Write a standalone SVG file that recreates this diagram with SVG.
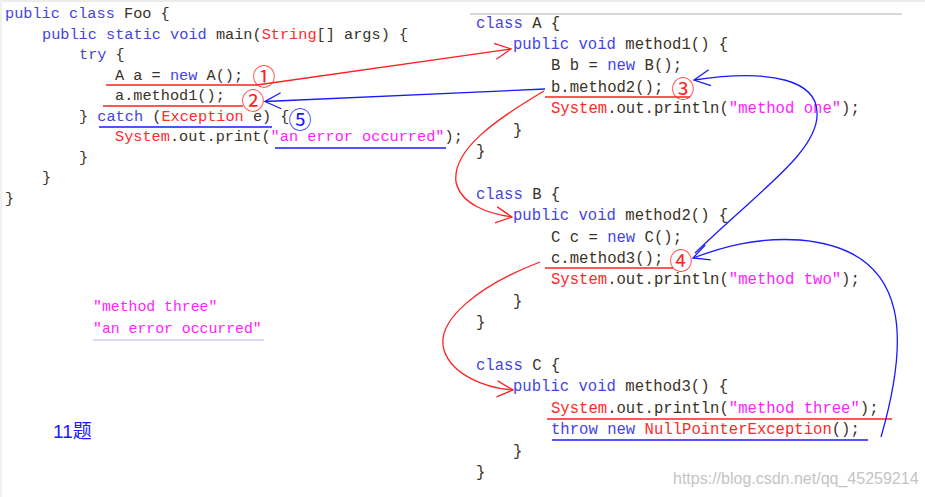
<svg xmlns="http://www.w3.org/2000/svg" width="925" height="497" viewBox="0 0 925 497">
<style>
.cl{font-family:"Liberation Mono","DejaVu Sans Mono",monospace;font-size:15.25px;fill:#3a3226;white-space:pre}
.cr{font-family:"Liberation Mono","DejaVu Sans Mono",monospace;font-size:15.6px;fill:#3a3226;white-space:pre}
.k{fill:#4444e4}
.t{fill:#ff2a2a}
.s{fill:#ff22ff}
.num{font-family:"Noto Sans CJK SC","DejaVu Sans",sans-serif;font-size:23px;text-anchor:middle;dominant-baseline:central}
.ur{stroke:#ff2020;stroke-width:1.5;fill:none}
.ub{stroke:#1a1aff;stroke-width:1.5;fill:none}
.cr-red{stroke:#ff2020;stroke-width:1.3;fill:none}
.cr-blue{stroke:#1a1aff;stroke-width:1.3;fill:none}
</style>
<defs>
<marker id="aR" markerUnits="userSpaceOnUse" markerWidth="24" markerHeight="24" viewBox="-20 -12 24 24" refX="0" refY="0" orient="auto" overflow="visible">
<path d="M-16,-8 L0,0 L-16,8" fill="none" stroke="#ff2020" stroke-width="1.3"/>
</marker>
<marker id="aB" markerUnits="userSpaceOnUse" markerWidth="24" markerHeight="24" viewBox="-20 -12 24 24" refX="0" refY="0" orient="auto" overflow="visible">
<path d="M-16,-8 L0,0 L-16,8" fill="none" stroke="#1a1aff" stroke-width="1.3"/>
</marker>
</defs>
<rect width="925" height="497" fill="#ffffff"/>
<line x1="0" y1="1" x2="925" y2="1" stroke="#ececec" stroke-width="2"/>
<line x1="1" y1="0" x2="1" y2="497" stroke="#f0f0f0" stroke-width="2"/>
<line x1="470" y1="14" x2="902" y2="14" stroke="#d8d8d8" stroke-width="2"/>

<g id="foo">
<text class="cl" x="5" y="18"><tspan class="k">public class</tspan> Foo {</text>
<text class="cl" x="42" y="38.5"><tspan class="k">public static void</tspan> main(<tspan class="t">String</tspan>[] args) {</text>
<text class="cl" x="79" y="59"><tspan class="k">try</tspan> {</text>
<text class="cl" x="115" y="79.5">A a = <tspan class="k">new</tspan> A();</text>
<text class="cl" x="115" y="100">a.method1();</text>
<text class="cl" x="79" y="120.5">} <tspan class="k">catch</tspan> (<tspan class="t">Exception</tspan> e) {</text>
<text class="cl" x="115" y="141"><tspan class="t">System</tspan>.out.print(<tspan class="s">"an error occurred"</tspan>);</text>
<text class="cl" x="79" y="161.5">}</text>
<text class="cl" x="42" y="182">}</text>
<text class="cl" x="5" y="202.5">}</text>
<line class="ur" x1="106" y1="85" x2="257" y2="85"/>
<line class="ur" x1="103" y1="106" x2="243" y2="106"/>
<line class="ub" x1="99" y1="127" x2="272" y2="127"/>
<line class="ub" x1="275" y1="148" x2="446" y2="148"/>
<text class="num" x="264" y="75" fill="#ff2020">①</text>
<text class="num" x="253" y="98.5" fill="#ff2020">②</text>
<text class="num" x="300" y="117.5" fill="#1a1aff">⑤</text>
</g>

<g id="classA">
<text class="cr" x="476" y="27.5"><tspan class="k">class</tspan> A {</text>
<text class="cr" x="513" y="48.9"><tspan class="k">public void</tspan> method1() {</text>
<text class="cr" x="551" y="70.3">B b = <tspan class="k">new</tspan> B();</text>
<text class="cr" x="551" y="91.7">b.method2();</text>
<text class="cr" x="551" y="113.1"><tspan class="t">System</tspan>.out.println(<tspan class="s">"method one"</tspan>);</text>
<text class="cr" x="513" y="134.5">}</text>
<text class="cr" x="476" y="155.9">}</text>
<line class="ur" x1="545" y1="97" x2="690" y2="97"/>
<text class="num" x="683" y="87" fill="#ff2020">③</text>
</g>

<g id="classB">
<text class="cr" x="476" y="198.7"><tspan class="k">class</tspan> B {</text>
<text class="cr" x="513" y="220.1"><tspan class="k">public void</tspan> method2() {</text>
<text class="cr" x="551" y="241.5">C c = <tspan class="k">new</tspan> C();</text>
<text class="cr" x="551" y="262.9">c.method3();</text>
<text class="cr" x="551" y="284.3"><tspan class="t">System</tspan>.out.println(<tspan class="s">"method two"</tspan>);</text>
<text class="cr" x="513" y="305.7">}</text>
<text class="cr" x="476" y="327.1">}</text>
<line class="ur" x1="545" y1="268" x2="673" y2="268"/>
<text class="num" x="681" y="258.5" fill="#ff2020">④</text>
</g>

<g id="classC">
<text class="cr" x="476" y="369.9"><tspan class="k">class</tspan> C {</text>
<text class="cr" x="513" y="391.3"><tspan class="k">public void</tspan> method3() {</text>
<text class="cr" x="551" y="412.7"><tspan class="t">System</tspan>.out.println(<tspan class="s">"method three"</tspan>);</text>
<text class="cr" x="551" y="434.1"><tspan class="k">throw new</tspan> <tspan class="t">NullPointerException</tspan>();</text>
<text class="cr" x="513" y="455.5">}</text>
<text class="cr" x="476" y="476.9">}</text>
<line class="ur" x1="547" y1="419" x2="892" y2="419"/>
<line class="ub" x1="552" y1="440" x2="868" y2="440"/>
</g>

<g id="output">
<text class="cl" x="93" y="310.5" style="font-size:14.8px"><tspan class="s">"method three"</tspan></text>
<text class="cl" x="93" y="333" style="font-size:14.8px"><tspan class="s">"an error occurred"</tspan></text>
<line x1="93" y1="340" x2="264" y2="340" stroke="#b8b8ff" stroke-width="1.2"/>
</g>

<g id="label">
<text x="53" y="438" style="font-family:'Liberation Sans','Noto Sans CJK SC',sans-serif;font-size:19px;fill:#1a1aff">11题</text>
</g>

<g id="watermark">
<text x="673" y="484" style="font-family:'Liberation Sans',Arial,sans-serif;font-size:16px;fill:#c4c4c4">https://blog.csdn.net/qq_45259214</text>
</g>

<g id="connectors">
<path class="cr-red" d="M257,85 L511,49" marker-end="url(#aR)"/>
<path class="cr-blue" d="M545,89 L265,101.5" marker-end="url(#aB)"/>
<path class="cr-red" d="M544,91 C495,120 452,150 456,182 C461,205 490,214 512,217" marker-end="url(#aR)"/>
<path class="cr-red" d="M540,262 C480,285 435,320 444,350 C452,375 485,388 513,390" marker-end="url(#aR)"/>
<path class="cr-blue" d="M881,437 C906,350 918,250 800,240 C755,237 720,248 693,258" marker-end="url(#aB)"/>
<path class="cr-blue" d="M695,253 C760,190 820,150 817,112 C816,82 775,68 694,80" marker-end="url(#aB)"/>
</g>
</svg>
